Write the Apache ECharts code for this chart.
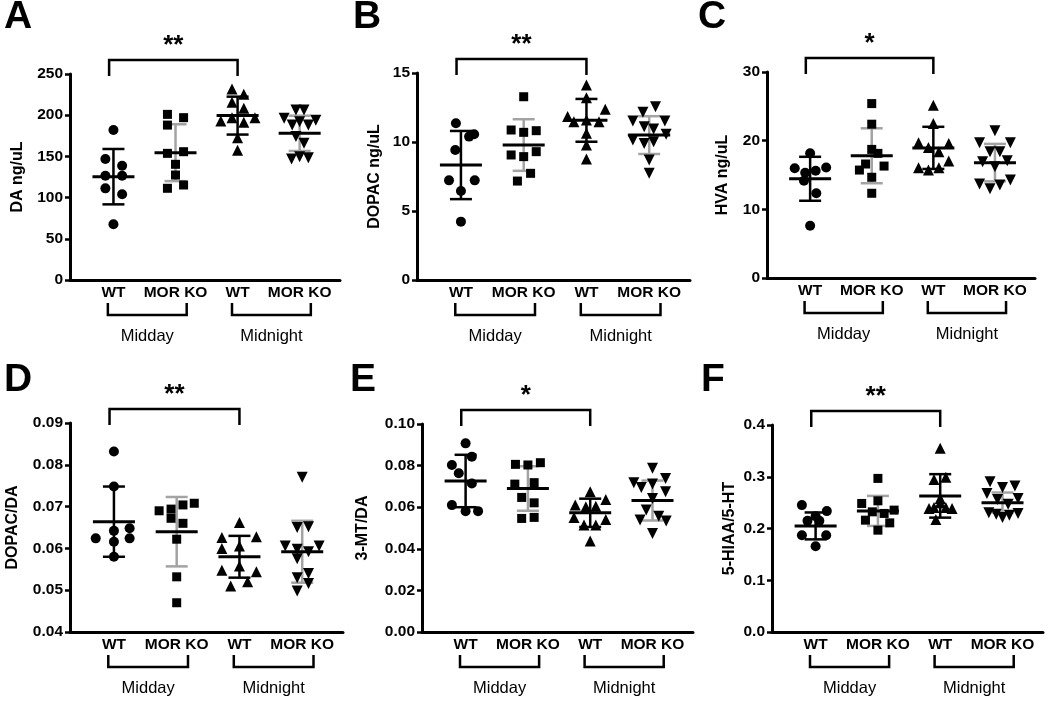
<!DOCTYPE html>
<html>
<head>
<meta charset="utf-8">
<script src="https://cdn.jsdelivr.net/npm/echarts@6/dist/echarts.min.js"></script>
<style>
html,body{margin:0;padding:0;background:#fff;}
#main{width:1050px;height:702px;}
</style>
</head>
<body>
<div id="main"></div>
<script>
// ---------------- DATA ----------------
const categories = ['WT', 'MOR KO', 'WT', 'MOR KO'];
const groupLabels = ['Midday', 'Midnight'];
const panelLetters = ['A', 'B', 'C', 'D', 'E', 'F'];
const yTitles = ['DA ng/uL', 'DOPAC ng/uL', 'HVA ng/uL', 'DOPAC/DA', '3-MT/DA', '5-HIAA/5-HT'];
const sigLabels = ['**', '**', '*', '**', '*', '**'];
const yMin = [0, 0, 0, 0.04, 0, 0];
const yMax = [250, 15, 30, 0.09, 0.10, 0.4];
const yStep = [50, 5, 10, 0.01, 0.02, 0.1];
const yDecimals = [0, 0, 0, 2, 2, 1];

// Panel A: DA ng/uL
const A_wtDay = [182, 146.8, 138.7, 126.6, 126.6, 111.2, 104, 67.6];
const A_koDay = [201, 197, 188, 153.7, 155.7, 140.4, 127.4, 111.3, 115.3];
const A_wtNight = [231.8, 225.4, 215.6, 208.3, 193, 197, 191.4, 197, 172.7, 157.4];
const A_koNight = [206.3, 206.3, 196.2, 188, 192, 188, 194, 174, 166, 146.8, 149.7, 148.5];
const A_mean = [125.4, 154.5, 199.5, 178];
const A_sd = [33.6, 34.5, 23, 21.4];

// Panel B: DOPAC ng/uL
const B_wtDay = [11.36, 10.39, 10.56, 9.42, 7.22, 7.22, 6.45, 4.23];
const B_koDay = [13.28, 10.87, 10.7, 10.82, 9.06, 8.94, 9.3, 7.73, 7.17];
const B_wtNight = [14.13, 13.21, 12.37, 11.84, 11.47, 11.59, 11.47, 10.63, 9.78, 8.77];
const B_koNight = [12.56, 12.15, 11.52, 11.52, 11.11, 10.94, 10.56, 10.14, 9.9, 10.02, 8.7, 7.73];
const B_mean = [8.33, 9.78, 11.57, 10.5];
const B_sd = [2.47, 1.87, 1.55, 1.37];

// Panel C: HVA ng/uL
const C_wtDay = [18.15, 15.97, 15.33, 15.62, 16.1, 14.17, 12.34, 7.6];
const C_koDay = [25.4, 22.4, 18.73, 18.15, 16.6, 15.72, 16.3, 14.67, 12.34];
const C_wtNight = [25.16, 22.5, 19.7, 19.6, 19.02, 18.38, 17.03, 16.06, 15.72, 16.06];
const C_koNight = [21.43, 19.69, 19.69, 18.38, 18.38, 16.93, 17.08, 16.2, 13.69, 13.01, 13.55, 14.27];
const C_mean = [14.45, 17.8, 18.95, 16.8];
const C_sd = [3.2, 4.0, 3.07, 2.73];

// Panel D: DOPAC/DA
const D_wtDay = [0.0832, 0.0748, 0.0642, 0.0648, 0.0624, 0.0624, 0.0616, 0.058];
const D_koDay = [0.0708, 0.0704, 0.0694, 0.069, 0.0672, 0.066, 0.0622, 0.0532, 0.047];
const D_wtNight = [0.0662, 0.0626, 0.0628, 0.0606, 0.06, 0.0558, 0.0548, 0.0544, 0.051, 0.052];
const D_koNight = [0.077, 0.065, 0.0652, 0.0606, 0.0606, 0.0598, 0.0592, 0.0575, 0.053, 0.054, 0.0516, 0.0498];
const D_mean = [0.0664, 0.064, 0.058, 0.0592];
const D_sd = [0.0084, 0.0083, 0.005, 0.0074];

// Panel E: 3-MT/DA
const E_wtDay = [0.0907, 0.0843, 0.0803, 0.0763, 0.0714, 0.061, 0.0581, 0.0581];
const E_koDay = [0.0806, 0.0803, 0.0814, 0.0711, 0.0718, 0.0647, 0.0621, 0.0546, 0.0551];
const E_wtNight = [0.0674, 0.0637, 0.061, 0.0602, 0.0605, 0.0551, 0.0541, 0.0514, 0.0514, 0.0438];
const E_koNight = [0.0787, 0.0717, 0.0695, 0.0738, 0.0711, 0.0674, 0.0642, 0.0586, 0.0557, 0.0538, 0.0534, 0.0474];
const E_mean = [0.0726, 0.069, 0.0573, 0.0632];
const E_sd = [0.0126, 0.0107, 0.0068, 0.0096];

// Panel F: 5-HIAA/5-HT
const F_wtDay = [0.2452, 0.2336, 0.2239, 0.2148, 0.2148, 0.1871, 0.1871, 0.1658];
const F_koDay = [0.2968, 0.2535, 0.2484, 0.2322, 0.2355, 0.2291, 0.2161, 0.2109, 0.1968];
const F_wtNight = [0.3549, 0.2949, 0.2988, 0.2581, 0.2388, 0.2407, 0.2407, 0.2388, 0.2175, 0.25];
const F_koNight = [0.2903, 0.2794, 0.2819, 0.2678, 0.2562, 0.2471, 0.2581, 0.2303, 0.2277, 0.2213, 0.2258, 0.2291];
const F_mean = [0.205, 0.234, 0.263, 0.25];
const F_sd = [0.026, 0.029, 0.042, 0.0195];

// horizontal scatter (jitter) within a column, in category units
const A_jit = [[0, -0.13, 0.14, -0.13, 0.14, -0.13, 0.14, 0], [-0.13, 0.13, -0.13, -0.13, 0.13, 0, 0, -0.13, 0.13], [-0.09, 0.1, -0.09, 0.1, -0.27, -0.09, 0.1, 0.28, 0, 0], [-0.06, 0.07, -0.25, -0.12, 0, 0.14, 0.26, -0.06, 0.07, -0.13, 0, 0.14]];
const B_jit = [[-0.08, 0.13, 0.21, -0.09, -0.19, 0.22, 0, 0], [0, -0.2, 0, 0.2, -0.2, 0, 0.2, 0.11, -0.1], [0, 0, 0.3, -0.3, -0.2, 0, 0.2, 0, 0, 0], [0.1, -0.1, -0.26, 0.25, -0.08, 0.07, 0.27, -0.26, -0.08, 0.07, 0, 0]];
const C_jit = [[0, -0.25, -0.08, 0.09, 0.26, -0.1, 0.1, 0], [0, 0, 0, 0.1, -0.1, -0.2, 0.2, 0, 0], [0, 0, -0.24, 0.25, -0.08, 0.09, 0.25, -0.24, -0.08, 0.09], [0, -0.25, 0.25, -0.08, 0.08, -0.2, 0.2, 0, -0.25, -0.08, 0.08, 0.25]];
const D_jit = [[0, 0, 0, 0.25, -0.29, 0.25, 0, 0], [0.28, 0.1, -0.09, -0.28, -0.09, 0.1, 0, 0, 0], [0, -0.28, 0.27, 0, -0.28, 0, -0.28, 0.27, -0.14, 0.13], [0, -0.08, 0.1, -0.27, 0.27, -0.08, 0.1, -0.08, -0.08, 0.1, 0.1, -0.08]];
const E_jit = [[0, 0.1, -0.22, -0.11, 0.1, -0.22, 0, 0.2], [-0.2, 0, 0.2, -0.21, 0.1, -0.1, 0.1, -0.1, 0.1], [0, 0.25, -0.24, -0.07, 0.09, -0.26, 0.25, -0.1, 0.09, 0], [0, -0.3, -0.18, 0.21, 0, 0.21, 0, -0.1, 0.1, -0.2, 0.22, 0]];
const F_jit = [[-0.22, 0.18, 0, -0.13, 0.06, -0.22, 0.17, 0], [0, 0, -0.26, -0.09, 0.26, 0.1, -0.2, 0.19, 0], [0, -0.1, 0.09, 0, -0.18, -0.1, 0.09, 0.19, -0.07, 0], [-0.2, 0, 0.2, -0.25, -0.08, 0.09, 0.25, -0.22, -0.1, 0, 0.11, 0.25]];

// ---------------- LAYOUT / STYLE ----------------
const FONT = '"Liberation Sans", Arial, Helvetica, sans-serif';
const gridBoxes = [
  {left: 70, top: 74, width: 270, height: 206},
  {left: 417, top: 73, width: 273, height: 207},
  {left: 767, top: 72, width: 268, height: 206},
  {left: 70, top: 423, width: 273, height: 209},
  {left: 422, top: 424, width: 271, height: 208},
  {left: 772, top: 425, width: 271, height: 207}
];
const nameGaps = [44, 34, 36, 49, 51, 34];
const letterPos = [[4, -2], [353, -2], [698, -2], [4, 361], [350, 361], [701, 361]];
const symbols = ['circle', 'rect', 'triangle', 'triangle'];
const symbolRot = [0, 0, 0, 180];
const symbolSizes = [10, 9, 11, 11];
const barColors = ['#000000', '#a3a3a3', '#000000', '#a3a3a3'];
const xMin = -0.7, xMax = 3.65;

const panels = [
  {groups: [A_wtDay, A_koDay, A_wtNight, A_koNight], jit: A_jit, mean: A_mean, sd: A_sd},
  {groups: [B_wtDay, B_koDay, B_wtNight, B_koNight], jit: B_jit, mean: B_mean, sd: B_sd},
  {groups: [C_wtDay, C_koDay, C_wtNight, C_koNight], jit: C_jit, mean: C_mean, sd: C_sd},
  {groups: [D_wtDay, D_koDay, D_wtNight, D_koNight], jit: D_jit, mean: D_mean, sd: D_sd},
  {groups: [E_wtDay, E_koDay, E_wtNight, E_koNight], jit: E_jit, mean: E_mean, sd: E_sd},
  {groups: [F_wtDay, F_koDay, F_wtNight, F_koNight], jit: F_jit, mean: F_mean, sd: F_sd}
];

const chart = echarts.init(document.getElementById('main'), null, {renderer: 'canvas'});

const grid = [], xAxis = [], yAxis = [], series = [];
panels.forEach((p, i) => {
  grid.push(Object.assign({containLabel: false}, gridBoxes[i]));
  xAxis.push({
    gridIndex: i, type: 'value', min: xMin, max: xMax,
    axisLine: {show: true, onZero: false, lineStyle: {color: '#000', width: 3}},
    axisTick: {show: false},
    splitLine: {show: false},
    axisLabel: {
      customValues: [0, 1, 2, 3],
      formatter: v => categories[Math.round(v)],
      color: '#000', fontFamily: FONT, fontWeight: 'bold', fontSize: 15.5, margin: 5
    }
  });
  yAxis.push({
    gridIndex: i, type: 'value', min: yMin[i], max: yMax[i], interval: yStep[i],
    name: yTitles[i], nameLocation: 'middle', nameGap: nameGaps[i], nameRotate: 90,
    nameTextStyle: {color: '#000', fontFamily: FONT, fontWeight: 'bold', fontSize: 16},
    axisLine: {show: true, onZero: false, lineStyle: {color: '#000', width: 3}},
    axisTick: {show: true, length: 5, lineStyle: {color: '#000', width: 2.5}},
    splitLine: {show: false},
    axisLabel: {
      color: '#000', fontFamily: FONT, fontWeight: 'bold', fontSize: 15.5, margin: 7,
      formatter: v => Number(v).toFixed(yDecimals[i])
    }
  });
  // error bars (mean ± SD)
  series.push({
    type: 'custom', xAxisIndex: i, yAxisIndex: i, z: 2, silent: true,
    data: p.mean.map((m, k) => [k, m, p.sd[k]]),
    encode: {x: 0, y: 1},
    renderItem: (params, api) => {
      const k = api.value(0), m = api.value(1), s = api.value(2);
      const c = api.coord([k, m]);
      const t = api.coord([k, m + s]);
      const b = api.coord([k, m - s]);
      const col = barColors[params.dataIndex];
      return {
        type: 'group',
        children: [
          {type: 'line', shape: {x1: c[0], y1: t[1], x2: c[0], y2: b[1]}, style: {stroke: col, lineWidth: 2.5}},
          {type: 'line', shape: {x1: c[0] - 11, y1: t[1], x2: c[0] + 11, y2: t[1]}, style: {stroke: col, lineWidth: 2.5}},
          {type: 'line', shape: {x1: c[0] - 11, y1: b[1], x2: c[0] + 11, y2: b[1]}, style: {stroke: col, lineWidth: 2.5}},
          {type: 'line', shape: {x1: c[0] - 21, y1: c[1], x2: c[0] + 21, y2: c[1]}, style: {stroke: '#000', lineWidth: 3}}
        ]
      };
    }
  });
  // points
  p.groups.forEach((vals, g) => {
    series.push({
      type: 'scatter', xAxisIndex: i, yAxisIndex: i, z: 3, silent: true,
      symbol: symbols[g], symbolRotate: symbolRot[g], symbolSize: symbolSizes[g],
      itemStyle: {color: '#000', opacity: 1},
      data: vals.map((v, j) => [g + p.jit[g][j], v])
    });
  });
});

chart.setOption({
  animation: false,
  backgroundColor: '#fff',
  grid, xAxis, yAxis, series
});

// ---------------- ANNOTATIONS (positioned via the axes) ----------------
const graphics = [];
const black = {stroke: '#000', lineWidth: 2.5, fill: null};
panels.forEach((p, i) => {
  const toPx = (x, y) => chart.convertToPixel({gridIndex: i}, [x, y]);
  const top = toPx(0, yMax[i])[1];
  const base = toPx(0, yMin[i])[1];
  // panel letter
  graphics.push({
    type: 'text', left: letterPos[i][0], top: letterPos[i][1],
    style: {text: panelLetters[i], fontFamily: FONT, fontWeight: 'bold', fontSize: 39, fill: '#000'}
  });
  // significance bracket WT midday vs WT midnight
  const xl = toPx(-0.07, 0)[0], xr = toPx(2, 0)[0];
  graphics.push({
    type: 'polyline', silent: true,
    shape: {points: [[xl, top + 2], [xl, top - 14], [xr, top - 14], [xr, top + 2]]},
    style: black
  });
  graphics.push({
    type: 'text', x: (xl + xr) / 2, y: top - 41,
    style: {text: sigLabels[i], fontFamily: FONT, fontWeight: 'bold', fontSize: 26, fill: '#000', align: 'center', verticalAlign: 'top'}
  });
  // grouping brackets below categories
  [[-0.09, 1.18], [1.91, 3.18]].forEach((r, gi) => {
    const a = toPx(r[0], 0)[0], b = toPx(r[1], 0)[0];
    graphics.push({
      type: 'polyline', silent: true,
      shape: {points: [[a, base + 23], [a, base + 35], [b, base + 35], [b, base + 23]]},
      style: black
    });
    graphics.push({
      type: 'text', x: (a + b) / 2, y: base + 56,
      style: {text: groupLabels[gi], fontFamily: FONT, fontSize: 16.5, fill: '#000', align: 'center', verticalAlign: 'middle'}
    });
  });
});
chart.setOption({graphic: graphics});
</script>
</body>
</html>
